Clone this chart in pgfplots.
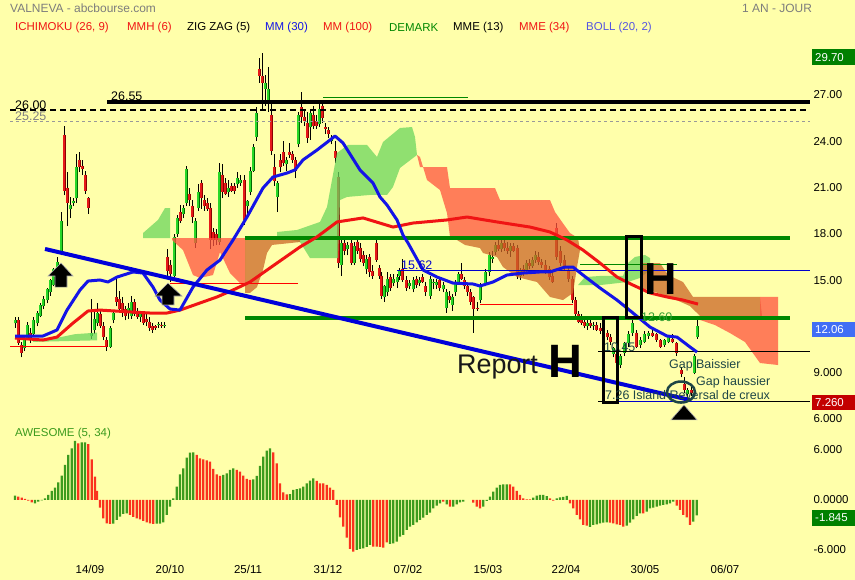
\documentclass[border=0pt]{standalone}
\usepackage{fontspec}
\setmainfont{Liberation Sans}
\usepackage{pgfplots}
\usepackage{pgfplotstable}
\pgfplotsset{compat=1.18}

\definecolor{bgc}{RGB}{255,255,170}
\definecolor{tgray}{RGB}{125,125,125}
\definecolor{ired}{RGB}{240,20,20}
\definecolor{mblue}{RGB}{20,20,230}
\definecolor{dgreen}{RGB}{0,135,0}
\definecolor{bollc}{RGB}{85,85,225}
\definecolor{cup}{RGB}{40,215,40}
\definecolor{cupd}{RGB}{0,105,0}
\definecolor{cdn}{RGB}{230,25,25}
\definecolor{cdnd}{RGB}{140,0,0}
\definecolor{kgreen}{RGB}{107,214,93}
\definecolor{korange}{RGB}{255,84,63}
\definecolor{kbrown}{RGB}{203,102,39}
\definecolor{aog}{RGB}{60,155,30}
\definecolor{aor}{RGB}{250,50,30}
\definecolor{slate}{RGB}{30,70,70}
\definecolor{boxblue}{RGB}{65,110,245}
\definecolor{boxred}{RGB}{195,0,0}
\definecolor{boxgreen}{RGB}{0,128,0}

% daily candles: x (pixel column), open, high, low, close
\pgfplotstableread{
x o h l c
15 12.2 12.6 11.9 12.4
18 12.4 12.6 10.8 10.9
21 10.8 11.0 10.0 10.3
24 10.6 11.3 10.4 11.1
27 11.2 12.3 11.1 12.1
30 11.6 11.9 10.9 11.2
33 11.5 12.6 11.4 12.4
37 12.2 13.0 12.0 12.9
40 12.7 13.5 12.6 13.4
43 13.3 14.0 13.1 13.8
47 13.7 14.5 13.5 14.4
50 14.2 15.1 14.0 15.0
53 14.7 15.8 14.6 15.7
57 15.5 16.5 15.4 16.2
61 16.8 19.4 16.6 18.8
64 24.4 25.0 20.5 20.8
67 21.0 22.0 18.5 20.0
70 19.6 20.4 19.0 19.9
73 20.0 20.3 19.8 20.1
76 20.3 23.2 20.0 22.3
79 22.8 23.3 22.0 22.3
82 22.4 22.8 21.8 22.2
85 21.8 22.1 20.6 20.8
88 20.3 20.4 19.3 19.7
91 11.4 13.8 11.2 11.6
94 11.8 13.0 11.5 12.5
97 12.2 13.5 12.0 12.9
100 12.8 13.1 11.9 12.0
103 12.0 12.3 11.1 11.3
106 11.1 11.3 10.4 10.7
110 10.7 12.0 10.6 11.9
113 12.4 13.0 12.2 12.9
116 13.9 15.2 13.3 13.6
119 13.8 14.3 12.9 13.1
122 13.5 13.9 12.6 12.9
125 13.1 13.3 12.4 12.7
128 12.9 13.5 12.5 13.2
131 12.7 14.0 12.5 13.6
134 13.6 13.8 12.7 12.8
137 13.0 13.2 12.5 12.6
140 12.6 13.0 12.3 12.8
143 12.8 13.0 12.1 12.2
146 12.5 12.8 12.0 12.3
149 12.3 12.6 11.7 11.9
152 12.0 12.2 11.6 11.8
155 12.0 12.1 11.8 11.9
158 12.1 12.3 11.9 12.15
161 12.1 12.3 11.9 12.0
164 12.0 12.3 11.9 12.1
167 16.5 17.0 15.2 15.6
170 16.0 16.3 14.9 15.4
174 15.3 18.0 15.2 17.8
177 18.0 19.2 17.8 19.0
180 19.4 19.9 18.7 18.8
183 19.3 19.9 19.0 19.7
186 20.0 22.4 19.8 22.2
189 20.6 21.0 19.8 20.2
192 19.8 20.2 18.7 19.1
195 17.4 19.0 17.1 18.8
198 19.7 21.2 19.5 20.7
201 21.3 21.5 19.6 20.3
204 20.2 20.5 19.5 19.8
207 20.0 20.3 19.5 19.6
210 19.7 20.0 17.0 17.6
213 18.1 18.4 17.2 17.6
216 18.0 18.3 17.3 17.6
219 17.5 22.6 17.3 22.0
222 21.8 22.5 20.3 20.7
225 21.3 21.6 20.5 20.6
228 20.7 21.5 20.4 21.0
231 21.1 21.3 20.7 20.8
234 21.1 21.3 20.6 20.8
237 21.2 22.0 21.0 21.6
240 21.3 21.8 21.1 21.5
244 21.5 21.8 18.6 18.9
247 19.8 20.2 19.2 20.1
250 20.7 22.3 20.5 22.1
253 22.1 23.8 22.0 23.6
256 24.3 26.2 24.0 25.8
259 28.7 29.4 27.8 28.2
262 28.2 29.7 26.0 27.8
265 27.4 28.3 26.3 27.8
268 26.7 28.8 25.9 27.4
271 25.7 26.5 23.1 23.4
274 22.3 23.2 21.1 21.4
277 20.4 21.4 19.4 21.3
280 22.8 23.2 22.0 22.3
283 23.3 24.0 22.4 22.6
286 22.5 23.0 22.1 22.8
289 23.3 23.9 22.9 23.1
292 23.2 23.4 22.6 22.8
295 22.8 23.0 21.6 22.1
298 23.8 25.9 23.6 25.7
301 26.2 27.2 25.2 25.6
304 25.6 26.0 25.0 25.3
307 25.2 25.9 23.9 24.2
310 24.9 26.0 24.1 25.8
313 25.7 26.3 24.8 25.0
316 25.3 25.7 24.8 25.0
319 25.1 26.6 24.9 26.1
322 26.3 26.7 25.2 25.5
325 24.9 25.2 24.5 24.8
328 24.7 24.9 24.2 24.5
331 24.0 24.4 23.8 24.2
335 23.4 24.0 22.6 22.9
338 21.7 22.0 15.8 16.1
341 16.0 17.8 15.3 17.4
344 17.4 17.8 16.6 16.9
347 17.0 17.5 16.6 17.3
351 17.4 17.6 16.0 16.1
354 16.1 17.5 16.0 17.2
357 17.5 17.7 16.7 16.9
360 17.1 17.4 16.2 16.4
363 16.6 16.9 15.9 16.1
366 15.7 16.6 15.4 16.4
369 16.5 16.7 15.2 15.5
372 15.6 16.0 15.1 15.3
376 17.4 17.7 16.2 16.3
379 15.8 16.0 15.1 15.3
381 15.3 15.5 13.8 14.0
384 13.9 14.7 13.6 14.6
387 14.2 15.5 14.0 15.1
390 15.2 15.4 14.3 14.5
393 14.8 15.4 14.6 15.1
397 14.9 15.4 14.5 15.2
399 15.3 15.8 15.0 15.6
402 15.7 16.4 14.9 15.0
406 15.0 15.3 14.3 14.5
409 14.6 15.0 14.4 14.8
413 14.4 15.2 14.2 15.0
416 15.1 15.3 14.5 14.7
419 14.8 15.2 14.6 15.0
422 15.2 15.4 14.8 14.9
425 14.6 14.9 14.0 14.2
430 14.0 15.3 13.8 15.1
433 14.8 15.1 14.4 14.9
436 14.7 15.1 14.4 14.9
439 15.0 15.2 14.3 14.5
443 14.4 14.9 14.2 14.7
446 13.2 14.4 12.9 14.2
449 14.0 14.3 13.5 13.7
452 13.4 14.1 13.0 13.9
455 14.2 15.0 14.0 14.8
458 14.9 15.5 14.7 15.4
461 15.4 16.1 15.0 15.1
464 15.0 15.2 14.4 14.6
467 14.6 14.8 14.0 14.2
470 14.2 14.4 13.4 13.6
473 13.9 14.0 11.6 13.1
477 13.2 13.6 13.0 13.1
480 13.7 14.8 13.5 14.6
485 14.8 15.7 14.6 15.5
489 15.5 16.8 15.3 16.6
492 16.4 16.9 16.1 16.5
495 16.8 17.5 16.6 17.3
498 17.3 17.6 16.9 17.0
501 17.0 17.6 16.8 17.4
504 17.4 17.7 16.9 17.1
507 17.1 17.5 16.7 16.9
510 16.9 17.4 16.5 17.2
513 17.2 17.4 16.8 16.9
517 17.1 17.3 15.1 15.3
520 15.3 15.8 15.0 15.6
523 15.7 16.0 15.3 15.5
526 15.6 16.3 15.4 16.1
529 16.1 16.4 15.7 15.9
532 15.9 16.5 15.8 16.3
535 16.3 16.9 16.1 16.6
538 16.5 16.8 16.0 16.2
541 16.2 16.4 15.8 16.0
545 16.0 16.3 15.4 15.6
549 15.7 15.9 15.0 15.2
552 15.3 15.6 14.8 14.9
556 18.4 18.7 16.3 16.5
560 16.9 17.2 15.9 16.1
564 16.3 16.6 15.6 15.8
568 15.6 15.9 14.9 15.1
572 15.1 15.3 13.5 13.7
575 13.7 13.9 12.6 12.8
578 12.8 13.0 12.2 12.3
581 12.4 12.8 12.1 12.2
584 12.3 12.6 11.9 12.0
587 12.0 12.4 11.8 12.2
590 12.2 12.4 11.9 12.0
593 12.0 12.3 11.8 12.1
596 12.1 12.3 11.7 11.8
600 11.9 12.2 11.5 11.7
603 11.7 12.0 11.4 11.5
607 11.6 11.8 11.1 11.3
610 11.3 11.5 10.8 11.0
613 10.2 10.7 10.0 10.6
616 10.2 10.4 9.05 9.6
620 9.5 10.2 9.3 10.1
624 10.3 11.0 10.1 10.9
628 10.9 11.7 10.7 11.5
632 11.6 12.4 11.4 12.2
636 11.6 11.8 10.6 10.7
640 10.8 11.3 10.6 11.1
644 11.0 11.7 10.9 11.5
648 11.4 11.7 11.2 11.6
652 11.6 11.8 11.3 11.4
656 11.5 11.6 11.0 11.1
660 11.1 11.2 10.6 10.7
664 10.8 11.2 10.7 11.1
668 11.0 11.4 10.9 11.3
672 11.2 11.5 10.9 11.0
676 10.9 11.0 10.1 10.3
681 9.2 9.4 8.7 8.9
684 8.3 8.7 7.7 7.9
687 7.6 8.0 7.26 7.9
691 7.9 8.1 7.5 7.7
694 9.0 10.2 8.9 10.1
697 11.3 12.5 11.2 12.06
}\candles

% awesome oscillator, rising bars
\pgfplotstableread{
x v
15 0.52
35 -0.4
38.3 -0.2
41.7 -0.05
45 0.2
48.3 0.6
51.7 1.08
55 1.48
58.3 2.12
61.7 2.92
65 4.2
68.3 5.4
71.7 6.2
75 7.1
81.7 6.9
85 6.9
113.3 -2.85
116.7 -2.4
120 -2.0
123.3 -1.68
126.7 -1.6
156.7 -2.85
160 -2.84
163.3 -2.68
166.7 -1.8
170 -0.8
173.3 0.2
176.7 1.6
180 3.08
183.3 3.8
186.7 5.08
190 5.68
193.3 5.72
223.3 3.0
226.7 3.2
230 3.6
233.3 3.8
253.3 2.48
256.7 2.88
260 4.08
263.3 5.2
266.7 5.92
270 6.2
290 0.7
293.3 1.2
296.7 1.3
300 1.4
303.3 1.6
306.7 2.0
310 2.32
313.3 2.6
356.7 -6.0
360 -5.88
363.3 -5.8
366.7 -5.64
370 -5.4
390 -5.28
393.3 -5.2
396.7 -5.0
400 -4.4
403.3 -4.2
406.7 -3.6
410 -3.2
413.3 -3.0
416.7 -2.68
420 -2.4
423.3 -2.12
426.7 -1.8
430 -1.52
433.3 -1.0
436.7 -0.68
440 -0.4
446.7 -0.52
453.3 -0.8
456.7 -0.52
460 -0.28
463.3 -0.2
483.3 -0.8
486.7 -0.12
490 0.4
493.3 1.0
496.7 1.48
500 1.8
503.3 1.88
506.7 1.88
533.3 0.28
536.7 0.52
540 0.6
543.3 0.6
546.7 0.45
556.7 0.2
560 0.32
563.3 0.36
566.7 0.48
590 -3.24
593.3 -3.0
596.7 -2.92
600 -2.8
603.3 -2.72
606.7 -2.68
626.7 -3.08
630 -2.72
633.3 -2.32
636.7 -1.92
640 -1.6
646.7 -1.4
650 -1.0
653.3 -0.92
656.7 -0.8
660 -0.68
663.3 -0.6
666.7 -0.52
670 -0.4
673.3 -0.2
693.3 -2.6
696.7 -1.845
}\aoG

% awesome oscillator, falling bars
\pgfplotstableread{
x v
18.3 0.4
21.7 0.28
25 0.12
28.3 -0.08
31.7 -0.28
78.3 6.8
88.3 6.7
91.7 4.88
95 2.8
97 1.08
100 -0.92
103.3 -2.2
106.7 -2.8
110 -2.88
130 -1.8
133.3 -2.04
136.7 -2.2
140 -2.32
143.3 -2.52
146.7 -2.68
150 -2.8
153.3 -2.88
196.7 5.4
200 5.0
203.3 4.88
206.7 4.76
210 4.6
213.3 3.72
216.7 3.08
220 2.88
236.7 3.6
240 3.4
243.3 2.92
246.7 2.52
250 2.4
273.3 5.72
276.7 4.4
280 2.0
283.3 0.92
286.7 0.68
316.7 2.28
320 2.0
323.3 1.98
326.7 1.8
330 1.48
333.3 1.2
336.7 -0.6
340 -2.08
343.3 -3.2
346.7 -4.52
350 -5.88
353.3 -6.2
373.3 -5.6
376.7 -5.6
380 -5.64
383.3 -5.72
386.7 -5.08
443.3 -0.2
450 -0.8
473.3 -0.32
476.7 -0.8
480 -1.0
510 1.88
513.3 1.6
516.7 1.08
520 0.6
523.3 0.2
526.7 0.08
530 0.08
550 0.2
553.3 -0.08
570 -0.4
573.3 -1.0
576.7 -1.8
580 -2.32
583.3 -3.0
586.7 -3.08
610 -2.72
613.3 -2.8
616.7 -2.92
620 -3.0
623.3 -3.2
643.3 -1.6
676.7 -0.68
680 -1.2
683.3 -1.8
686.7 -2.08
690 -3.0
}\aoR

\pgfplotsset{
  mypanel/.style={
    scale only axis, width=810bp, xmin=0, xmax=810,
    axis line style={draw=none}, major tick length=0pt, clip=false,
    yticklabel pos=right,
    tick label style={font=\fontsize{11.5}{13}\selectfont, text=black},
  },
  body/.style={quiver={u value=0, v=\thisrow{c}-\thisrow{o}}},
}
\tikzset{
  pricebox/.style={anchor=west, text=white, inner xsep=3bp, inner ysep=0bp,
    minimum height=15.5bp, text width=37bp, align=left,
    font=\fontsize{11.5}{13}\selectfont},
}

\begin{document}
\begin{tikzpicture}
\fill[bgc] (0bp,0bp) rectangle (855bp,580bp);

\node[anchor=west, inner sep=0, text=tgray, font=\fontsize{12}{14}\selectfont] at (10bp,572bp) {VALNEVA - abcbourse.com};
\node[anchor=west, inner sep=0, text=tgray, font=\fontsize{12}{14}\selectfont] at (742bp,572bp) {1 AN - JOUR};

\begin{scope}[every node/.style={anchor=west, inner sep=0, font=\fontsize{11.5}{13}\selectfont}]
\node[text=ired] at (15bp,552.5bp) {ICHIMOKU (26, 9)};
\node[text=ired] at (127bp,552.5bp) {MMH (6)};
\node[text=black] at (187bp,552.5bp) {ZIG ZAG (5)};
\node[text=mblue] at (265bp,552.5bp) {MM (30)};
\node[text=ired] at (323bp,552.5bp) {MM (100)};
\node[text=dgreen] at (389bp,552.5bp) {DEMARK};
\node[text=black] at (453bp,552.5bp) {MME (13)};
\node[text=ired] at (519bp,552.5bp) {MME (34)};
\node[text=bollc] at (586bp,552.5bp) {BOLL (20, 2)};
\node[text=aog] at (15bp,146.5bp) {AWESOME (5, 34)};
\end{scope}

% ---------------- price panel ----------------
\begin{axis}[mypanel, at={(0bp,152bp)}, anchor=south west, height=388bp,
  ymin=5.42, ymax=30.56, xtick=\empty,
  ytick={6,9,15,18,21,24,27},
  yticklabels={6.000,9.000,15.00,18.00,21.00,24.00,27.00}]

% candles: wick, then body with a darker edge
\addplot[black, line width=0.8bp, quiver={u value=0, v=\thisrow{h}-\thisrow{l}}]
  table[x=x, y=l] {\candles};
\addplot[cupd, line width=3bp, body,
  restrict expr to domain={\thisrow{c}-\thisrow{o}}{0:100}] table[x=x, y=o] {\candles};
\addplot[cup, line width=1.5bp, body,
  restrict expr to domain={\thisrow{c}-\thisrow{o}}{0:100}] table[x=x, y=o] {\candles};
\addplot[cdnd, line width=3bp, body,
  restrict expr to domain={\thisrow{c}-\thisrow{o}}{-100:-0.0001}] table[x=x, y=o] {\candles};
\addplot[cdn, line width=1.5bp, body,
  restrict expr to domain={\thisrow{c}-\thisrow{o}}{-100:-0.0001}] table[x=x, y=o] {\candles};

% ichimoku cloud
\addplot[fill=kgreen, draw=none, fill opacity=0.75] coordinates {
 (33,11.12) (60,11.3) (75,11.5) (97,11.6) (97,11.1) (33,11.0)} -- cycle;
\addplot[fill=kgreen, draw=none, fill opacity=0.75] coordinates {
 (143,17.73) (143,18.05) (158,18.9) (165,19.67) (170,19.67) (170,17.73)} -- cycle;
\addplot[fill=kgreen, draw=none, fill opacity=0.75] coordinates {
 (277,18.12) (297,18.25) (320,18.77) (327,19.74) (337,23.24) (348,23.76)
 (367,23.76) (377,22.98) (383,23.95) (400,24.86) (412,24.92) (415,24.28)
 (417,23.11) (400,22.27) (393,21.04) (387,20.52) (370,20.52) (347,20.39)
 (340,20.19) (338,16.43) (310,16.43) (300,17.47) (290,17.6) (277,17.6)} -- cycle;
\addplot[fill=korange, draw=none, fill opacity=0.75] coordinates {
 (172,17.73) (245,17.73) (245,14.68) (240,14.81) (230,15.46) (220,16.82)
 (213,15.33) (200,15.14) (193,15.33) (183,16.95) (172,17.6)} -- cycle;
\addplot[fill=kbrown, draw=none, fill opacity=0.75] coordinates {
 (245,17.73) (300,17.73) (300,17.47) (272,17.28) (267,16.76) (263,15.66)
 (257,14.55) (250,14.17) (245,14.17)} -- cycle;
\addplot[fill=korange, draw=none, fill opacity=0.75] coordinates {
 (417,23.11) (420,22.33) (447,22.33) (450,20.97) (495,20.97) (500,20.19)
 (550,20.19) (555,19.42) (562,18.77) (570,18.05) (578,17.73) (480,17.73)
 (457,17.6) (450,17.8) (447,19.35) (440,20.84) (427,21.49) (420,22.98)} -- cycle;
\addplot[fill=kbrown, draw=none, fill opacity=0.75] coordinates {
 (457,17.6) (578,17.73) (580,16.95) (577,15.85) (573,14.17) (563,13.71)
 (550,13.91) (537,14.88) (517,15.2) (503,15.85) (497,16.5) (483,16.76)
 (480,17.08) (465,17.28)} -- cycle;
\addplot[fill=kgreen, draw=none, fill opacity=0.75] coordinates {
 (578,14.68) (585,15.2) (600,15.27) (623,15.27) (628,16.11) (635,16.5)
 (645,16.63) (650,16.43) (650,15.66) (640,15.14) (628,14.88) (600,14.68)} -- cycle;
\addplot[fill=kbrown, draw=none, fill opacity=0.75] coordinates {
 (640,16.11) (660,16.11) (668,15.33) (683,14.88) (693,13.91) (760,13.91)
 (762,12.68) (700,12.68) (690,13.32) (672,13.84) (655,14.23) (642,14.49)} -- cycle;
\addplot[fill=korange, draw=none, fill opacity=0.75] coordinates {
 (697,12.68) (760,12.68) (760,13.91) (778,13.91) (778,9.5) (760,9.63)
 (745,10.99) (730,11.57) (715,12.09) (700,12.42)} -- cycle;

% horizontal levels
\addplot[black, line width=4bp] coordinates {(107,26.55) (810,26.55)};
\addplot[black, line width=2bp, dash pattern=on 6bp off 4bp] coordinates {(10,26.0) (810,26.0)};
\addplot[gray!80, line width=1bp, dash pattern=on 3bp off 3bp] coordinates {(10,25.25) (810,25.25)};
\addplot[dgreen, line width=0.8bp] coordinates {(323,26.82) (468,26.82)};
\addplot[dgreen, line width=4bp] coordinates {(245,17.73) (790,17.73)};
\addplot[dgreen, line width=4bp] coordinates {(245,12.55) (790,12.55)};
\addplot[blue!80!black, line width=1bp] coordinates {(397,15.62) (810,15.62)};
\addplot[dgreen, line width=0.8bp] coordinates {(580,16.05) (677,16.05)};
\addplot[black, line width=1bp] coordinates {(598,10.35) (810,10.35)};
\addplot[black, line width=1bp] coordinates {(598,7.12) (810,7.12)};
\addplot[blue!80!black, line width=1bp] coordinates {(603,7.16) (720,7.16)};
\addplot[red, line width=1bp] coordinates {(10,10.67) (107,10.67)};
\addplot[red, line width=1bp] coordinates {(170,14.81) (298,14.81)};
\addplot[red, line width=1bp] coordinates {(480,13.45) (573,13.45)};

% moving averages
\addplot[ired, line width=3bp, line join=round] coordinates {
 (15,11.25) (43,11.12) (57,11.31) (73,12.22) (88,13.00) (100,13.06) (133,12.93)
 (150,12.87) (167,12.87) (180,13.06) (200,13.52) (217,13.91) (233,14.36)
 (250,14.88) (270,15.79) (300,17.15) (317,17.80) (337,18.77) (363,19.03)
 (393,18.44) (413,18.70) (447,18.90) (467,19.09) (497,18.77) (530,18.44)
 (550,18.12) (567,17.60) (583,16.95) (600,16.11) (617,15.20) (633,14.68)
 (650,14.17) (667,13.91) (683,13.71) (698,13.45)};
\addplot[mblue, line width=3bp, line join=round] coordinates {
 (15,11.38) (43,11.38) (57,11.77) (67,13.06) (80,14.36) (88,14.94) (100,15.01)
 (108,14.88) (117,15.20) (133,15.53) (143,15.46) (153,14.55) (160,13.71)
 (170,13.13) (180,13.06) (193,14.55) (207,15.66) (220,16.30) (233,17.60)
 (247,19.09) (263,20.97) (273,21.68) (287,21.94) (295,22.14) (303,22.79)
 (317,23.43) (330,24.08) (335,24.34) (343,23.89) (360,22.14) (373,21.29)
 (380,20.39) (387,19.87) (397,18.90) (403,17.92) (408,17.41) (423,15.66)
 (437,15.20) (453,14.81) (473,14.75) (480,14.62) (493,14.88) (507,15.33)
 (523,15.46) (540,15.53) (550,15.53) (565,15.85) (573,15.85) (583,15.33)
 (600,14.49) (617,13.71) (633,12.87) (650,11.96) (667,11.38) (677,11.31)
 (690,10.67) (697,10.34)};
% trend line
\addplot[blue!85!black, line width=4bp] coordinates {(45,17.02) (690,7.23)};

% arrows
\addplot[fill=black, draw=gray!60, line width=0.6bp] coordinates {
 (61,16.11) (73,15.27) (67,15.27) (67,14.55) (55,14.55) (55,15.27) (48,15.27)} -- cycle;
\addplot[fill=black, draw=gray!60, line width=0.6bp] coordinates {
 (168,14.81) (182,13.97) (174,13.97) (174,13.39) (162,13.39) (162,13.97) (155,13.97)} -- cycle;
\addplot[fill=black, draw=gray!60, line width=0.6bp] coordinates {
 (684,6.91) (697,5.95) (671,5.95)} -- cycle;

% boxes and ellipse
\draw[line width=3bp] (axis cs:603,7.10) rectangle (axis cs:617,12.55);
\draw[line width=3bp] (axis cs:626,12.55) rectangle (axis cs:641,17.80);
\draw[line width=2.5bp, slate] (axis cs:681,7.75) ellipse [x radius=14bp, y radius=10.5bp];

% texts
\begin{scope}[every node/.style={inner sep=0, font=\fontsize{12.5}{14}\selectfont}]
\node[anchor=south west, yshift=1bp] at (axis cs:111,26.55) {26.55};
\node[anchor=south west, yshift=1bp] at (axis cs:15,26.0) {26.00};
\node[anchor=south west, yshift=1bp, text=gray] at (axis cs:15,25.25) {25.25};
\node[anchor=south west, yshift=1bp, text=blue!80!black] at (axis cs:401,15.62) {15.62};
\node[anchor=west, text=dgreen!80] at (axis cs:641,12.61) {12.60};
\node[anchor=west, text=slate] at (axis cs:604,10.67) {10.45};
\node[anchor=west, text=slate] at (axis cs:605,7.58) {7.26 Island Reversal de creux};
\node[anchor=west, text=slate] at (axis cs:669,9.5) {Gap Baissier};
\node[anchor=west, text=slate] at (axis cs:696,8.4) {Gap haussier};
\end{scope}
\node[anchor=base west, inner sep=0, font=\fontsize{27}{30}\selectfont, text=black!90] at (axis cs:457,8.98) {Report};
\node[anchor=base west, inner sep=0, font=\fontsize{47}{50}\selectfont\bfseries] at (axis cs:548,8.72) {H};
\node[anchor=base west, inner sep=0, font=\fontsize{45}{48}\selectfont\bfseries] at (axis cs:644,14.04) {H};

% last value boxes
\node[pricebox, fill=boxgreen] at (axis cs:812,29.45) {29.70};
\node[pricebox, fill=boxblue] at (axis cs:812,11.8) {12.06};
\node[pricebox, fill=boxred] at (axis cs:812,7.07) {7.260};
\end{axis}

% ---------------- awesome oscillator ----------------
\begin{axis}[mypanel, at={(0bp,20bp)}, anchor=south west, height=130bp,
  ymin=-7.2, ymax=8.4,
  ytick={-6,0,6}, yticklabels={-6.000,0.0000,6.000},
  xtick={90,170,248,328,408,488,566,645,725},
  xticklabels={14/09,20/10,25/11,31/12,07/02,15/03,22/04,30/05,06/07},
  xticklabel style={yshift=-2bp}]
\addplot[ybar, bar width=2.3bp, bar shift=0pt, fill=aog, draw=none] table[x=x, y=v] {\aoG};
\addplot[ybar, bar width=2.3bp, bar shift=0pt, fill=aor, draw=none] table[x=x, y=v] {\aoR};
\node[pricebox, fill=boxgreen] at (axis cs:812,-2.16) {-1.845};
\end{axis}
\pgfresetboundingbox
\path (0bp,0bp) rectangle (855bp,580bp);
\end{tikzpicture}
\end{document}
